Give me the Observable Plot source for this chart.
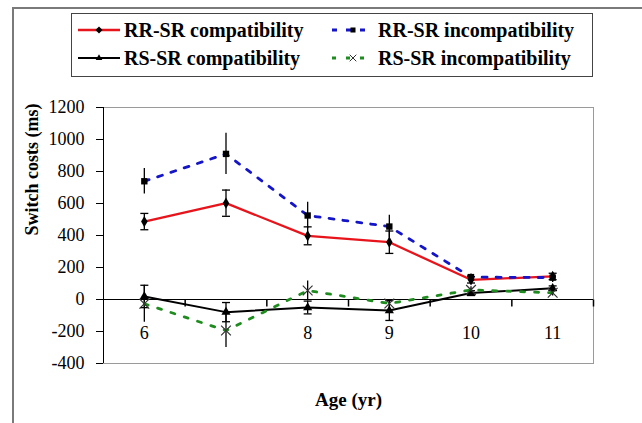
<!DOCTYPE html>
<html>
<head>
<meta charset="utf-8">
<script src="https://cdn.jsdelivr.net/npm/d3@7"></script>
<script src="https://cdn.jsdelivr.net/npm/@observablehq/plot@0.6"></script>
<style>
  body { margin: 0; background: #fff; }
  #wrap { position: relative; width: 642px; height: 423px; overflow: hidden; background: #fff; font-family: "Liberation Serif", Tinos, "Times New Roman", "DejaVu Serif", serif; }
  #outer { position: absolute; left: 12px; top: 7px; width: 800px; height: 600px; border: 2px solid #7a7a7a; }
  #legend { position: absolute; left: 71px; top: 13px; width: 520px; height: 62px; border: 1.5px solid #444; background: #fff; }
  .item { position: absolute; display: flex; align-items: center; height: 26px; font-weight: bold; font-size: 20px; color: #000; white-space: nowrap; }
  .item svg { margin-right: 3px; }
  #chart { position: absolute; left: 0; top: 90px; }
  #chart svg text { font-family: "Liberation Serif", Tinos, "Times New Roman", "DejaVu Serif", serif; }
</style>
</head>
<body>
<div id="wrap">
  <div id="outer"></div>
  <div id="legend"></div>
  <div id="chart"></div>
</div>
<script>
const ages = [6, 7, 8, 9, 10, 11];
const tickLabels = ["6", "", "8", "9", "10", "11"];
const yTicks = [-400, -200, 0, 200, 400, 600, 800, 1000, 1200];
const seriesNames = ["RR-SR compatibility", "RR-SR incompatibility", "RS-SR compatibility", "RS-SR incompatibility"];
const rrCompat = [487, 602, 398, 358, 123, 144];
const rrCompatErr = [51, 82, 56, 70, 20, 20];
const rrIncompat = [739, 910, 525, 456, 140, 137];
const rrIncompatErr = [79, 129, 83, 70, 20, 30];
const rsCompat = [19, -79, -50, -69, 40, 70];
const rsCompatErr = [70, 60, 40, 62, 15, 15];
const rsIncompat = [-27, -194, 56, -25, 60, 42];
const rsIncompatErr = [115, 106, 60, 20, 20, 20];

const styles = [
  {stroke: "#e8141b", dash: null, width: 2.3, symbol: "diamond", fill: "#000", caps: true},
  {stroke: "#1414c8", dash: "5,9", width: 2.8, symbol: "square", fill: "#000", caps: false},
  {stroke: "#000000", dash: null, width: 2.0, symbol: "triangle", fill: "#000", caps: true},
  {stroke: "#1e8c1e", dash: "4,10", width: 2.8, symbol: "times", fill: "none", caps: false}
];
const values = [rrCompat, rrIncompat, rsCompat, rsIncompat];
const errors = [rrCompatErr, rrIncompatErr, rsCompatErr, rsIncompatErr];

const rows = [];
values.forEach((vals, s) => vals.forEach((v, i) => rows.push({series: s, age: ages[i], v, e: errors[s][i]})));

const capSymbol = {draw(ctx, size) { const w = 4; ctx.moveTo(-w, 0); ctx.lineTo(w, 0); }};
const downTick = {draw(ctx, size) { ctx.moveTo(0, 0); ctx.lineTo(0, 7); }};
const bounds = d3.range(ages.length + 1).map(i => ages[0] - 0.5 + i);

const marks = [
  Plot.frame({stroke: "#9a9a9a"}),
  Plot.ruleX([bounds[0]], {stroke: "#000"}),
  Plot.ruleY([0], {stroke: "#000", strokeWidth: 1}),
  Plot.dot(bounds.slice(1), {x: d => d, y: 0, symbol: downTick, stroke: "#000", r: 4}),
  Plot.axisY({ticks: yTicks, tickSize: 7, tickPadding: 12, tickFormat: d => String(d), label: null, fontSize: 18}),
  Plot.axisX({ticks: ages, tickSize: 0, tickPadding: 0, dy: -37, tickFormat: d => tickLabels[ages.indexOf(d)], label: null, fontSize: 18})
];

// error bars
marks.push(Plot.ruleX(rows, {x: "age", y1: d => d.v - d.e, y2: d => d.v + d.e, stroke: "#000", strokeWidth: 1.3}));
const capRows = rows.filter(d => styles[d.series].caps);
marks.push(Plot.dot(capRows, {x: "age", y: d => d.v + d.e, symbol: capSymbol, stroke: "#000", strokeWidth: 1.3, r: 4}));
marks.push(Plot.dot(capRows, {x: "age", y: d => d.v - d.e, symbol: capSymbol, stroke: "#000", strokeWidth: 1.3, r: 4}));

// lines + markers
styles.forEach((st, s) => {
  const data = rows.filter(d => d.series === s);
  marks.push(Plot.line(data, {x: "age", y: "v", stroke: st.stroke, strokeWidth: st.width, strokeDasharray: st.dash || undefined}));
});
styles.forEach((st, s) => {
  const data = rows.filter(d => d.series === s);
  if (st.symbol === "times") {
    marks.push(Plot.dot(data, {x: "age", y: "v", symbol: "times", stroke: "#333", strokeWidth: 1.2, r: 4.5}));
  } else {
    marks.push(Plot.dot(data, {x: "age", y: "v", symbol: st.symbol, fill: st.fill, stroke: "none", r: st.symbol === "square" ? 3.6 : 3.4}));
  }
});

// axis titles
marks.push(Plot.text(["Age (yr)"], {frameAnchor: "bottom", dy: 42, fontWeight: "bold", fontSize: 19}));
marks.push(Plot.text(["Switch costs (ms)"], {frameAnchor: "left", dx: -71, rotate: -90, fontWeight: "bold", fontSize: 18}));

const plot = Plot.plot({
  width: 642,
  height: 333,
  marginTop: 17,
  marginBottom: 60,
  marginLeft: 103,
  marginRight: 49,
  style: {fontFamily: "'Liberation Serif', Tinos, 'Times New Roman', 'DejaVu Serif', serif", fontSize: "18px", color: "#000", background: "transparent", overflow: "visible"},
  x: {type: "linear", domain: [bounds[0], bounds[bounds.length - 1]]},
  y: {domain: [-400, 1200]},
  marks
});
document.getElementById("chart").appendChild(plot);

// legend
const legend = d3.select("#legend");
const positions = [[5, 3], [259, 3], [5, 31], [259, 31]];
styles.forEach((st, s) => {
  const item = legend.append("div").attr("class", "item")
    .style("left", positions[s][0] + "px").style("top", positions[s][1] + "px");
  const svg = item.append("svg").attr("width", 44).attr("height", 14);
  svg.append("line").attr("x1", 1).attr("x2", 43).attr("y1", 7).attr("y2", 7)
    .attr("stroke", st.stroke).attr("stroke-width", st.width)
    .attr("stroke-dasharray", st.dash);
  if (st.symbol === "times") {
    svg.append("path").attr("d", d3.symbol(d3.symbolTimes, 30)()).attr("transform", "translate(22,7)")
      .attr("stroke", "#333").attr("stroke-width", 1).attr("fill", "none");
  } else {
    const t = st.symbol === "diamond" ? d3.symbolDiamond2 : st.symbol === "square" ? d3.symbolSquare2 : d3.symbolTriangle2;
    svg.append("path").attr("d", d3.symbol(t, 32)()).attr("transform", "translate(22,7)").attr("fill", "#000");
  }
  item.append("span").text(seriesNames[s]);
});
</script>
</body>
</html>
